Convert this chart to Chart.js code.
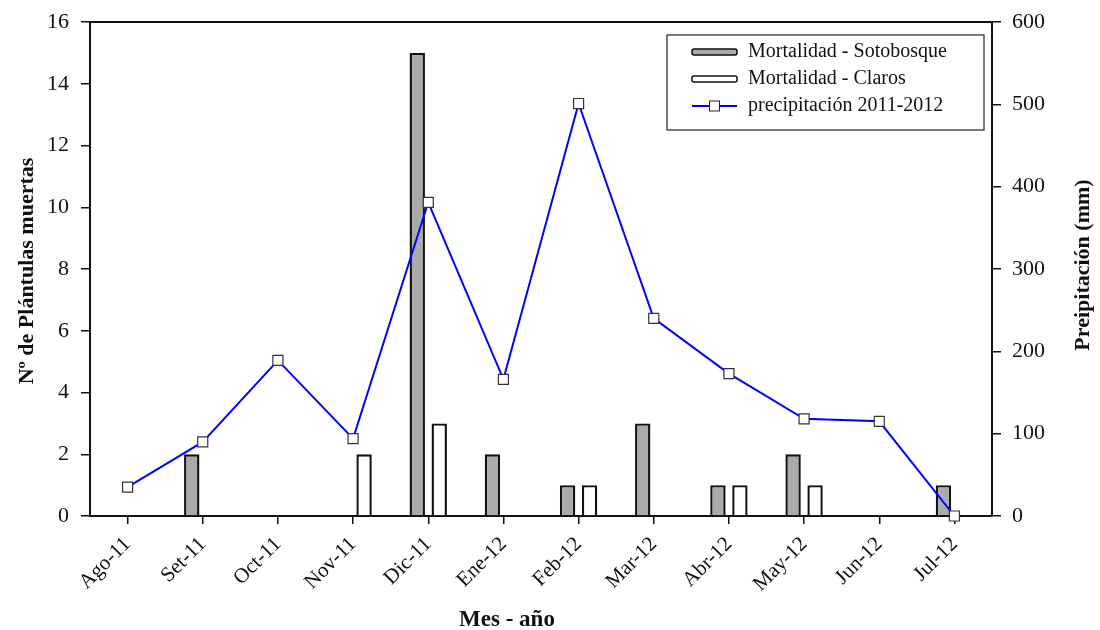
<!DOCTYPE html>
<html>
<head>
<meta charset="utf-8">
<script src="https://cdn.jsdelivr.net/npm/chart.js@4"></script>
<style>
  html, body { margin: 0; padding: 0; background: #fff; }
  canvas { display: block; }
</style>
</head>
<body>
<canvas id="grafico" width="1100" height="630"></canvas>
<script>
// Meses de muestreo
const meses = ['Ago-11', 'Set-11', 'Oct-11', 'Nov-11', 'Dic-11', 'Ene-12',
               'Feb-12', 'Mar-12', 'Abr-12', 'May-12', 'Jun-12', 'Jul-12'];

// Plántulas muertas por mes
const mortSotobosque = [0, 2, 0, 0, 15, 2, 1, 3, 1, 2, 0, 1];
const mortClaros     = [0, 0, 0, 2, 3, 0, 1, 0, 1, 1, 0, 0];

// Precipitación mensual (mm)
const precipitacion = [35, 90, 189, 94, 381, 166, 501, 240, 173, 118, 115, 0];

// Ticks de los ejes
const ticksMortalidad = [0, 2, 4, 6, 8, 10, 12, 14, 16];
const ticksPrecip = [0, 100, 200, 300, 400, 500, 600];

const FUENTE = 'Liberation Serif';
Chart.defaults.font.family = FUENTE;
Chart.defaults.color = '#111';

// Títulos de ejes, borde superior y leyenda enmarcada
const decoracion = {
    id: 'decoracion',
    afterDraw(chart) {
        const ctx = chart.ctx;
        const area = chart.chartArea;
        ctx.save();

        // borde superior del área
        ctx.strokeStyle = '#111';
        ctx.lineWidth = 2;
        ctx.beginPath();
        ctx.moveTo(area.left - 1, area.top);
        ctx.lineTo(area.right + 1, area.top);
        ctx.stroke();

        // títulos
        ctx.fillStyle = '#111';
        ctx.textAlign = 'center';
        ctx.textBaseline = 'alphabetic';
        ctx.font = 'bold 23px "' + FUENTE + '"';
        ctx.fillText('Mes - año', 507, 626);

        ctx.font = 'bold 22px "' + FUENTE + '"';
        ctx.save();
        ctx.translate(33, (area.top + area.bottom) / 2 + 2);
        ctx.rotate(-Math.PI / 2);
        ctx.fillText('Nº de Plántulas muertas', 0, 0);
        ctx.restore();

        ctx.save();
        ctx.translate(1089, (area.top + area.bottom) / 2 - 4);
        ctx.rotate(-Math.PI / 2);
        ctx.fillText('Preipitación (mm)', 0, 0);
        ctx.restore();

        // leyenda
        const caja = { x: 667, y: 35, w: 317, h: 95 };
        ctx.fillStyle = '#fff';
        ctx.fillRect(caja.x, caja.y, caja.w, caja.h);
        ctx.strokeStyle = '#222';
        ctx.lineWidth = 1.2;
        ctx.strokeRect(caja.x, caja.y, caja.w, caja.h);

        const filas = [52, 79, 106];
        const ds = chart.data.datasets;
        ctx.font = '20px "' + FUENTE + '"';
        ctx.textAlign = 'left';
        ctx.textBaseline = 'middle';
        ds.forEach((d, i) => {
            const y = filas[i];
            if (d.type === 'line') {
                ctx.strokeStyle = d.borderColor;
                ctx.lineWidth = 2;
                ctx.beginPath();
                ctx.moveTo(692, y);
                ctx.lineTo(737, y);
                ctx.stroke();
                ctx.fillStyle = '#fff';
                ctx.fillRect(709.5, y - 5, 10, 10);
                ctx.strokeStyle = '#222';
                ctx.lineWidth = 1;
                ctx.strokeRect(709.5, y - 5, 10, 10);
            } else {
                ctx.fillStyle = d.backgroundColor;
                ctx.strokeStyle = '#111';
                ctx.lineWidth = 1.5;
                ctx.beginPath();
                ctx.roundRect(692, y - 3, 45, 6, 2);
                ctx.fill();
                ctx.stroke();
            }
            ctx.fillStyle = '#111';
            ctx.fillText(d.label, 748, y);
        });

        ctx.restore();
    }
};

const ctx = document.getElementById('grafico').getContext('2d');

new Chart(ctx, {
    type: 'bar',
    data: {
        labels: meses,
        datasets: [
            {
                label: 'Mortalidad - Sotobosque',
                data: mortSotobosque,
                backgroundColor: '#aaaaaa',
                borderColor: '#111',
                borderWidth: 2.4,
                yAxisID: 'y',
                order: 2,
                categoryPercentage: 0.585,
                barPercentage: 0.7
            },
            {
                label: 'Mortalidad - Claros',
                data: mortClaros,
                backgroundColor: '#ffffff',
                borderColor: '#111',
                borderWidth: 2.4,
                yAxisID: 'y',
                order: 2,
                categoryPercentage: 0.585,
                barPercentage: 0.7
            },
            {
                type: 'line',
                label: 'precipitación 2011-2012',
                data: precipitacion,
                borderColor: '#0000ff',
                borderWidth: 2,
                pointStyle: 'rect',
                pointRadius: 7.1,
                pointBackgroundColor: '#fff',
                pointBorderColor: '#333',
                pointBorderWidth: 1.2,
                tension: 0,
                clip: false,
                yAxisID: 'y1',
                order: 0
            }
        ]
    },
    options: {
        responsive: false,
        animation: false,
        layout: { padding: { top: 22 } },
        plugins: {
            legend: { display: false },
            tooltip: { enabled: false }
        },
        scales: {
            x: {
                offset: true,
                grid: {
                    offset: false,
                    drawOnChartArea: false,
                    tickLength: 8,
                    tickColor: '#111',
                    lineWidth: 1.5
                },
                border: { color: '#111', width: 2 },
                ticks: {
                    font: { size: 21 },
                    minRotation: 45,
                    maxRotation: 45,
                    padding: 8
                },
                afterFit(s) { s.height = 114; }
            },
            y: {
                position: 'left',
                min: 0,
                max: 16,
                grid: {
                    drawOnChartArea: false,
                    tickLength: 9,
                    tickColor: '#111',
                    lineWidth: 1.5
                },
                border: { color: '#111', width: 2 },
                afterBuildTicks(s) { s.ticks = ticksMortalidad.map(v => ({ value: v })); },
                ticks: { font: { size: 22 }, padding: 12 },
                afterFit(s) { s.width = 90; s.paddingTop = 0; s.paddingBottom = 0; }
            },
            y1: {
                position: 'right',
                min: 0,
                max: 600,
                grid: {
                    drawOnChartArea: false,
                    tickLength: 9,
                    tickColor: '#111',
                    lineWidth: 1.5
                },
                border: { color: '#111', width: 2 },
                afterBuildTicks(s) { s.ticks = ticksPrecip.map(v => ({ value: v })); },
                ticks: { font: { size: 22 }, padding: 11 },
                afterFit(s) { s.width = 108; s.paddingTop = 0; s.paddingBottom = 0; }
            }
        }
    },
    plugins: [decoracion]
});
</script>
</body>
</html>
